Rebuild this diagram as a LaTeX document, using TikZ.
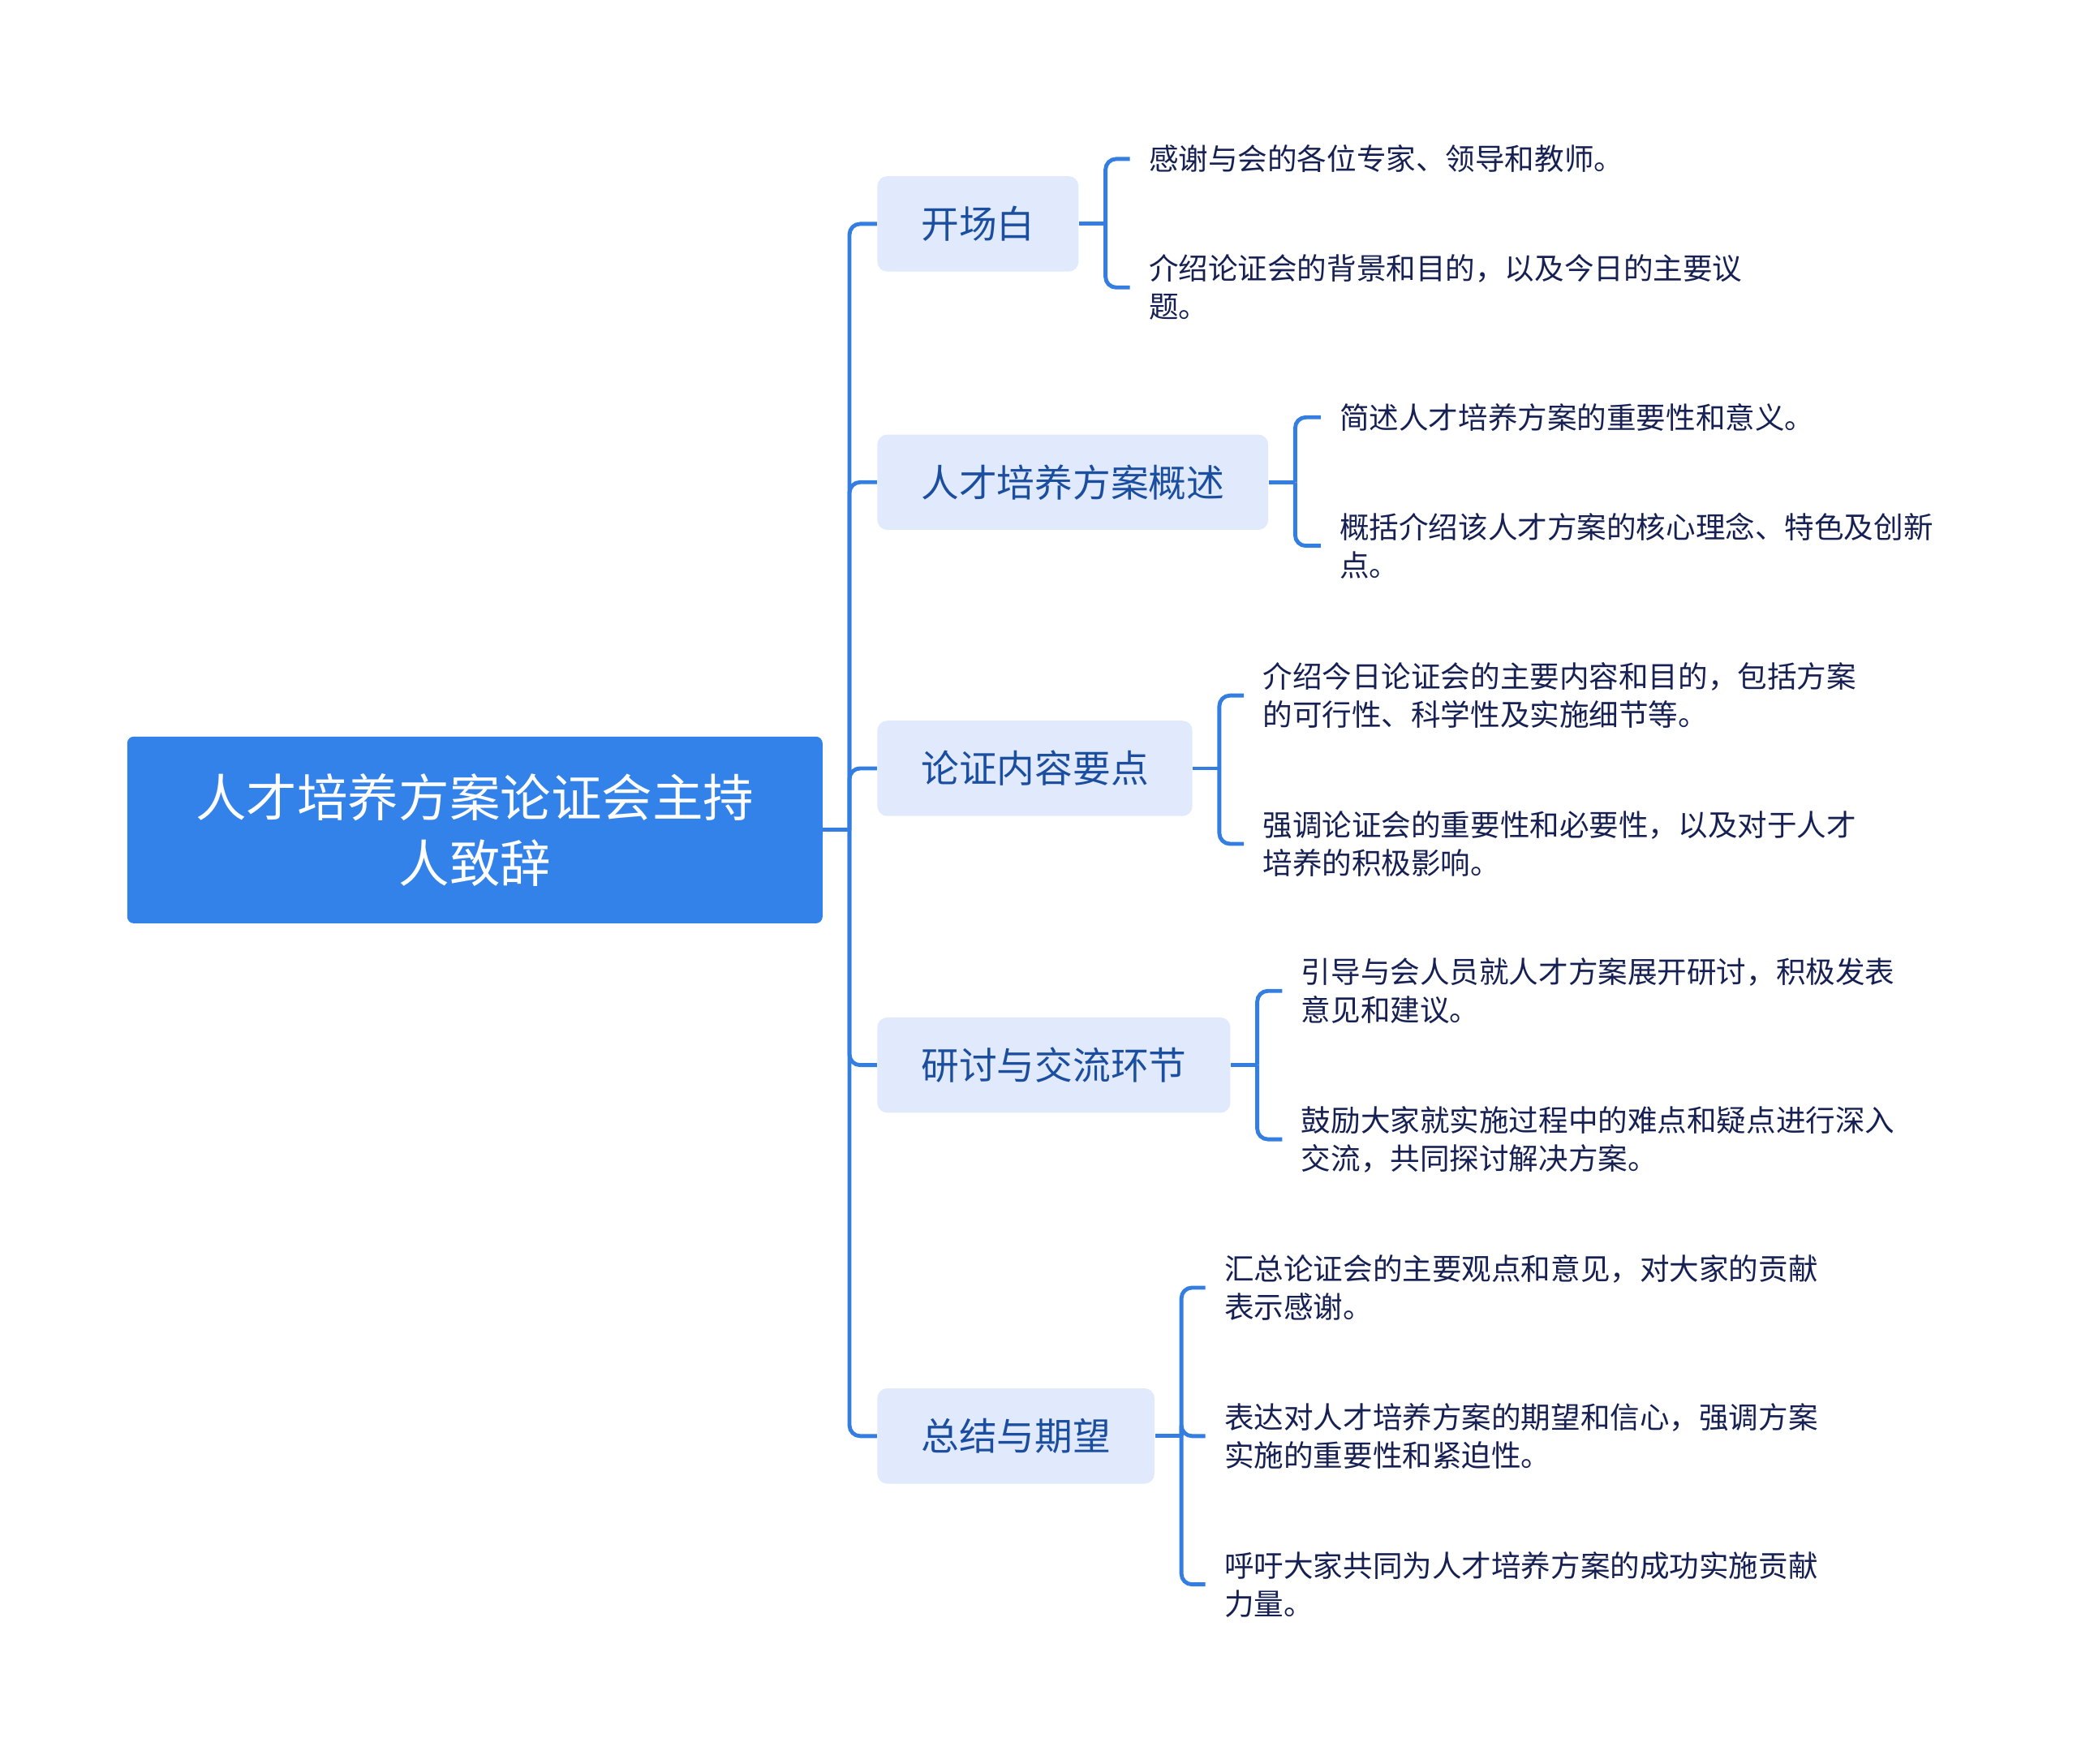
\documentclass[tikz,border=0pt]{standalone}
\usepackage{fontspec}
\setmainfont{Noto Sans CJK SC}
\usetikzlibrary{positioning}
\definecolor{rootblue}{RGB}{51,130,234}
\definecolor{topicfill}{RGB}{225,234,252}
\definecolor{topictext}{RGB}{28,78,160}
\definecolor{leaftext}{RGB}{22,32,82}
\definecolor{linkblue}{RGB}{52,125,225}

\begin{document}
\begin{tikzpicture}[
  x=0.02cm, y=-0.02cm,
  rootbox/.style={fill=rootblue, text=white, rounded corners=0.1cm,
                  minimum width=10.5cm, minimum height=2.82cm, align=center,
                  font=\fontsize{21.8}{28.3}\selectfont},
  topic/.style={fill=topicfill, text=topictext, rounded corners=0.15cm,
                minimum height=1.44cm, inner xsep=0.66cm, anchor=west,
                font=\fontsize{16.3}{20}\selectfont},
  leaf/.style={text=leaftext, inner xsep=0.28cm, inner ysep=0pt, anchor=west,
               align=left, font=\fontsize{12.75}{16.4}\selectfont},
  link/.style={draw=linkblue, line width=1.7pt, rounded corners=0.16cm},
]
\useasboundingbox (0,0) rectangle (1568,1331);

%% Root
\node[rootbox] (root) at (358.5, 626.5) {人才培养方案论证会主持\\人致辞};

%% Topics at x=662
\node[topic] (open) at (662, 169)  {开场白};
\node[topic] (over) at (662, 364)  {人才培养方案概述};
\node[topic] (key)  at (662, 580)  {论证内容要点};
\node[topic] (disc) at (662, 804)  {研讨与交流环节};
\node[topic] (summ) at (662, 1084) {总结与期望};

%% Leaves
\node[leaf] (open1) at (853, 120) {感谢与会的各位专家、领导和教师。};
\node[leaf] (open2) at (853, 217) {介绍论证会的背景和目的，以及今日的主要议\\题。};
\node[leaf] (over1) at (997, 315) {简述人才培养方案的重要性和意义。};
\node[leaf] (over2) at (997, 412) {概括介绍该人才方案的核心理念、特色及创新\\点。};
\node[leaf] (key1)  at (939, 525) {介绍今日论证会的主要内容和目的，包括方案\\的可行性、科学性及实施细节等。};
\node[leaf] (key2)  at (939, 637) {强调论证会的重要性和必要性，以及对于人才\\培养的积极影响。};
\node[leaf] (disc1) at (968, 748) {引导与会人员就人才方案展开研讨，积极发表\\意见和建议。};
\node[leaf] (disc2) at (968, 860) {鼓励大家就实施过程中的难点和疑点进行深入\\交流，共同探讨解决方案。};
\node[leaf] (summ1) at (910, 972) {汇总论证会的主要观点和意见，对大家的贡献\\表示感谢。};
\node[leaf] (summ2) at (910, 1084) {表达对人才培养方案的期望和信心，强调方案\\实施的重要性和紧迫性。};
\node[leaf] (summ3) at (910, 1196) {呼吁大家共同为人才培养方案的成功实施贡献\\力量。};

%% Connectors: root to topics
\draw[link] (root.east) -- ++(20,0) coordinate (hub);
\draw[link] (hub) |- (open.west);
\draw[link] (hub) |- (over.west);
\draw[link] (hub) |- (key.west);
\draw[link] (hub) |- (disc.west);
\draw[link] (hub) |- (summ.west);

%% Connectors: topics to leaves
\draw[link] (open.east) -- ++(20,0) coordinate (openh);
\draw[link] (openh) |- (open1.west);
\draw[link] (openh) |- (open2.west);
\draw[link] (over.east) -- ++(20,0) coordinate (overh);
\draw[link] (overh) |- (over1.west);
\draw[link] (overh) |- (over2.west);
\draw[link] (key.east) -- ++(20,0) coordinate (keyh);
\draw[link] (keyh) |- (key1.west);
\draw[link] (keyh) |- (key2.west);
\draw[link] (disc.east) -- ++(20,0) coordinate (disch);
\draw[link] (disch) |- (disc1.west);
\draw[link] (disch) |- (disc2.west);
\draw[link] (summ.east) -- ++(20,0) coordinate (summh);
\draw[link] (summh) |- (summ1.west);
\draw[link] (summh) |- (summ2.west);
\draw[link] (summh) |- (summ3.west);

\end{tikzpicture}
\end{document}
